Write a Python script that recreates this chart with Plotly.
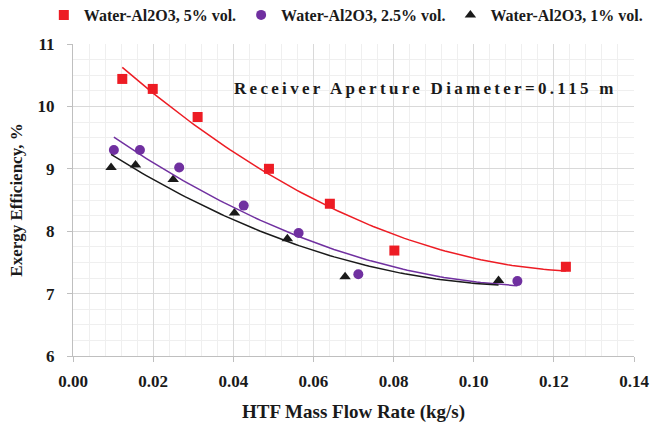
import numpy as np
import plotly.graph_objects as go

# --- data ---
x_5 = [0.0123, 0.0199, 0.0311, 0.0489, 0.0641, 0.0802, 0.1230]
y_5 = [10.44, 10.28, 9.83, 9.00, 8.44, 7.69, 7.43]

x_25 = [0.0102, 0.0167, 0.0265, 0.0426, 0.0563, 0.0712, 0.1109]
y_25 = [9.30, 9.30, 9.02, 8.41, 7.97, 7.31, 7.20]

x_1 = [0.0095, 0.0156, 0.0250, 0.0403, 0.0535, 0.0679, 0.1062]
y_1 = [9.02, 9.06, 8.83, 8.29, 7.88, 7.27, 7.21]

series_names = ["Water-Al2O3, 5% vol.", "Water-Al2O3, 2.5% vol.", "Water-Al2O3, 1% vol."]
colors = ["#ED1C24", "#7030A0", "#1A1A1A"]
symbols = ["square", "circle", "triangle-up"]

FONT = "Liberation Serif, Times New Roman, serif"

fig = go.Figure()

series = [(x_5, y_5), (x_25, y_25), (x_1, y_1)]
for (xs, ys), name, c, s in zip(series, series_names, colors, symbols):
    fig.add_trace(go.Scatter(x=xs, y=ys, mode="markers", name=name,
                             marker=dict(color=c, symbol=s, size=10, line=dict(width=0))))
for (xs, ys), name, c in zip(series, series_names, colors):
    coef = np.polyfit(xs, ys, 2)  # second-order trendline fitted to the data
    xf = np.linspace(min(xs), max(xs), 100)
    fig.add_trace(go.Scatter(x=xf, y=np.polyval(coef, xf), mode="lines", showlegend=False,
                             line=dict(color=c, width=1.5), hoverinfo="skip"))

fig.add_annotation(text="Receiver Aperture Diameter=0.115 m", xref="paper", yref="paper",
                   x=0.284, y=0.856, xanchor="left", yanchor="middle", align="left",
                   showarrow=False, font=dict(family=FONT, size=17, color="#1A1A1A", weight="bold"))

fig.update_layout(
    width=650, height=426,
    margin=dict(l=73, r=16, t=44, b=70, autoexpand=False),
    paper_bgcolor="white", plot_bgcolor="white",
    font=dict(family=FONT, color="#1A1A1A", size=16, weight="bold"),
    legend=dict(orientation="h", xref="paper", yref="paper",
                x=-0.052, xanchor="left", y=1.093, yanchor="middle",
                font=dict(family=FONT, size=16, weight="bold"), itemwidth=30,
                bgcolor="rgba(0,0,0,0)"),
    xaxis=dict(range=[0, 0.14], dtick=0.02, tick0=0, tickformat=".2f", automargin=False,
               showgrid=True, gridcolor="#D9D9D9", gridwidth=1,
               minor=dict(dtick=0.004, showgrid=True, gridcolor="#EFEFEF", gridwidth=1),
               ticks="outside", ticklen=5, tickcolor="#BFBFBF", ticklabelstandoff=5,
               showline=True, linecolor="#BFBFBF", linewidth=1, zeroline=False,
               tickfont=dict(family=FONT, size=17, weight="bold"),
               title=dict(text="HTF Mass Flow Rate (kg/s)", standoff=14,
                          font=dict(family=FONT, size=19, weight="bold"))),
    yaxis=dict(range=[6, 11], dtick=1, tick0=6, automargin=False,
               showgrid=True, gridcolor="#D9D9D9", gridwidth=1,
               minor=dict(dtick=0.25, showgrid=True, gridcolor="#EFEFEF", gridwidth=1),
               ticks="outside", ticklen=5, tickcolor="#BFBFBF", ticklabelstandoff=9,
               showline=True, linecolor="#BFBFBF", linewidth=1, zeroline=False,
               tickfont=dict(family=FONT, size=17, weight="bold"),
               title=dict(text="Exergy Efficiency, %", standoff=10,
                          font=dict(family=FONT, size=17, weight="bold"))),
)

post = """
document.body.style.margin = '0';
var gd = document.getElementById('{plot_id}');
function spacing(){
  gd.querySelectorAll('.annotation-text').forEach(function(e){ e.style.letterSpacing = '3.3px'; });
}
spacing();
setTimeout(spacing, 50);
setTimeout(spacing, 300);
if (gd.on) { gd.on('plotly_afterplot', spacing); }
"""

fig.write_html("out.html", post_script=post, config={"displayModeBar": False})
